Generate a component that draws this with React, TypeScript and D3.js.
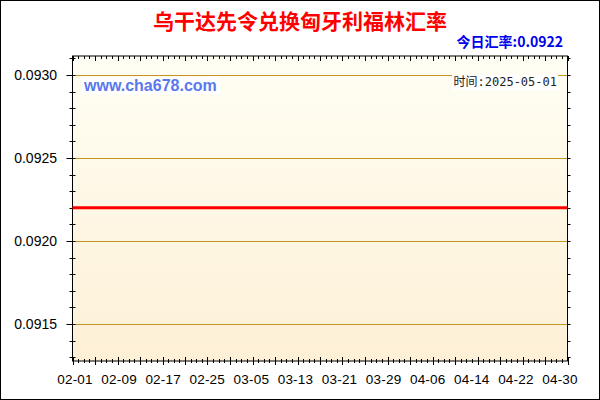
import { useEffect, useRef } from "react";
import * as d3 from "d3";

// data
const labelDates = [
  "2025-02-01", "2025-02-09", "2025-02-17", "2025-02-25", "2025-03-05", "2025-03-13",
  "2025-03-21", "2025-03-29", "2025-04-06", "2025-04-14", "2025-04-22", "2025-04-30",
];
const rates = [
  0.0922, 0.0922, 0.0922, 0.0922, 0.0922, 0.0922,
  0.0922, 0.0922, 0.0922, 0.0922, 0.0922, 0.0922,
];
const yTicks = [0.0915, 0.092, 0.0925, 0.093];
const title = "乌干达先令兑换匈牙利福林汇率";
const todayRate = "今日汇率:0.0922";
const siteText = "www.cha678.com";
const timeText = "时间:2025-05-01";

export default function App() {
  const ref = useRef<SVGSVGElement>(null);

  useEffect(() => {
    if (!ref.current) return;
    const svg = d3.select(ref.current);
    svg.selectAll("*").remove();

    const W = 600;
    const H = 400;
    const m = { top: 56, right: 32.5, bottom: 39, left: 72.5 };
    const x0 = m.left;
    const x1 = W - m.right;
    const y0 = H - m.bottom;
    const y1 = m.top;

    const parse = d3.timeParse("%Y-%m-%d");
    const dates = labelDates.map((d) => parse(d) as Date);
    const data = dates.map((d, i) => ({ date: d, value: rates[i] }));

    const x = d3
      .scaleTime()
      .domain([dates[0], dates[dates.length - 1]])
      .range([x0, x1]);
    // the labels sit on a slightly narrower band than the ticks
    const xLabel = x.copy().range([75, 560]);
    const y = d3.scaleLinear().domain([0.091277, 0.093114]).range([y0, y1]);

    const font = "'Liberation Sans', Arial, 'Noto Sans CJK SC', sans-serif";
    const cjk = "'Noto Sans CJK SC', 'Microsoft YaHei', sans-serif";

    // frame
    svg
      .append("rect")
      .attr("x", 0.5)
      .attr("y", 0.5)
      .attr("width", W - 1)
      .attr("height", H - 1)
      .attr("fill", "#fff")
      .attr("stroke", "#000");

    // plot background
    const grad = svg
      .append("defs")
      .append("linearGradient")
      .attr("id", "bg")
      .attr("x1", 0)
      .attr("y1", 0)
      .attr("x2", 0)
      .attr("y2", 1);
    grad.append("stop").attr("offset", "0%").attr("stop-color", "#fffef4");
    grad.append("stop").attr("offset", "100%").attr("stop-color", "#fdf0d6");

    svg
      .append("rect")
      .attr("x", x0)
      .attr("y", y1)
      .attr("width", x1 - x0)
      .attr("height", y0 - y1)
      .attr("fill", "url(#bg)");

    // grid
    svg
      .append("g")
      .selectAll("line")
      .data(yTicks)
      .join("line")
      .attr("x1", x0)
      .attr("x2", x1)
      .attr("y1", (d) => Math.round(y(d)) + 0.5)
      .attr("y2", (d) => Math.round(y(d)) + 0.5)
      .attr("stroke", "#c39420")
      .attr("stroke-width", 1);

    // ticks
    const days = d3.timeDay.range(dates[0], d3.timeDay.offset(dates[dates.length - 1], 1));
    const minorY = d3.range(0, 19).map((i) => +(0.0913 + i * 0.0001).toFixed(4));
    const tk = svg.append("g").attr("stroke", "#000").attr("stroke-width", 1);

    days.forEach((d, i) => {
      const px = Math.round(x(d)) + 0.5;
      const big = i % 4 === 0;
      tk.append("line")
        .attr("x1", px).attr("x2", px)
        .attr("y1", y0 - (big ? 4 : 2)).attr("y2", y0 + (big ? 4 : 2));
      tk.append("line")
        .attr("x1", px).attr("x2", px)
        .attr("y1", y1).attr("y2", y1 + (big ? 5 : 3));
    });

    minorY
      .filter((v) => y(v) >= y1 - 0.5 && y(v) <= y0 + 0.5)
      .forEach((v) => {
        const py = Math.round(y(v)) + 0.5;
        const major = yTicks.some((t) => Math.abs(t - v) < 1e-9);
        tk.append("line")
          .attr("x1", x0 - (major ? 6 : 3)).attr("x2", x0 + 3)
          .attr("y1", py).attr("y2", py);
        tk.append("line")
          .attr("x1", x1).attr("x2", x1 + 3)
          .attr("y1", py).attr("y2", py);
      });

    // plot border
    svg
      .append("rect")
      .attr("x", x0)
      .attr("y", y1)
      .attr("width", x1 - x0)
      .attr("height", y0 - y1)
      .attr("fill", "none")
      .attr("stroke", "#000");

    // rate line
    const line = d3
      .line<{ date: Date; value: number }>()
      .x((d) => x(d.date))
      .y((d) => y(d.value));
    svg
      .append("path")
      .datum(data)
      .attr("d", line)
      .attr("fill", "none")
      .attr("stroke", "#ff0000")
      .attr("stroke-width", 3);

    // axis labels
    svg
      .append("g")
      .selectAll("text")
      .data(yTicks)
      .join("text")
      .attr("x", 57)
      .attr("y", (d) => y(d))
      .attr("dy", "0.35em")
      .attr("text-anchor", "end")
      .attr("font-family", font)
      .attr("font-size", 14)
      .attr("fill", "#000")
      .text((d) => d.toFixed(4));

    svg
      .append("g")
      .selectAll("text")
      .data(dates)
      .join("text")
      .attr("x", (d) => xLabel(d))
      .attr("y", 384)
      .attr("text-anchor", "middle")
      .attr("font-family", font)
      .attr("font-size", 13.5)
      .attr("letter-spacing", 0.2)
      .attr("fill", "#000")
      .text((d) => d3.timeFormat("%m-%d")(d));

    // title
    svg
      .append("text")
      .attr("x", 300)
      .attr("y", 29)
      .attr("text-anchor", "middle")
      .attr("font-family", cjk)
      .attr("font-size", 21)
      .attr("font-weight", "bold")
      .attr("fill", "#ff0000")
      .text(title);

    svg
      .append("text")
      .attr("x", 563)
      .attr("y", 47)
      .attr("text-anchor", "end")
      .attr("font-family", cjk)
      .attr("font-size", 14)
      .attr("font-weight", "bold")
      .attr("fill", "#0000ee")
      .text(todayRate);

    // watermark + time, with white boxes
    const site = svg.append("g");
    site
      .append("rect")
      .attr("x", 82)
      .attr("y", 77)
      .attr("width", 138)
      .attr("height", 17)
      .attr("fill", "#fff");
    site
      .append("text")
      .attr("x", 84)
      .attr("y", 91)
      .attr("font-family", font)
      .attr("font-size", 16)
      .attr("font-weight", "bold")
      .attr("fill", "#5a78ec")
      .text(siteText);

    const tm = svg.append("g");
    tm.append("rect")
      .attr("x", 452)
      .attr("y", 75)
      .attr("width", 106)
      .attr("height", 15)
      .attr("fill", "#fff");
    tm.append("text")
      .attr("x", 557)
      .attr("y", 86)
      .attr("text-anchor", "end")
      .attr("font-family", "'DejaVu Sans Mono', 'Noto Sans CJK SC', monospace")
      .attr("font-size", 12)
      .attr("fill", "#222")
      .text(timeText);
  }, []);

  return (
    <div style={{ position: "absolute", left: 0, top: 0 }}>
      <svg ref={ref} width={600} height={400} style={{ display: "block" }} />
    </div>
  );
}
